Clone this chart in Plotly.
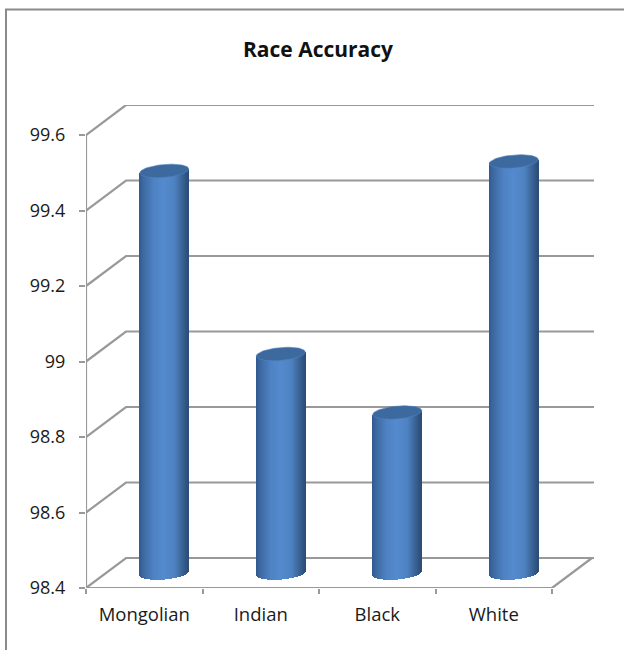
import math
import plotly.graph_objects as go

# data
categories = ["Mongolian", "Indian", "Black", "White"]
values = [99.465, 98.98, 98.825, 99.49]
y_ticks = [98.4, 98.6, 98.8, 99.0, 99.2, 99.4, 99.6]
y_tick_labels = ["98.4", "98.6", "98.8", "99", "99.2", "99.4", "99.6"]
title = "Race Accuracy"

# pixel geometry of the oblique 3D box
W, H = 624, 650
L, R, T, B = 86, 594, 105, 588
PX_PER_CAT = 116.5
PX_PER_UNIT = 377.5
Y0 = y_ticks[0]
dx = 40 / PX_PER_CAT          # wall depth in x units
dy = 30 / PX_PER_UNIT         # wall depth in y units
bar_w = 49 / PX_PER_CAT
x_lo = -0.5
x_hi = x_lo + (R - L) / PX_PER_CAT
y_hi = Y0 + (B - T) / PX_PER_UNIT
GRID = "#999999"
TEXT = "#1a1a1a"
FONT = "Open Sans"

stops = [(0.0, (48, 88, 140)), (0.08, (60, 104, 160)), (0.3, (78, 130, 196)),
         (0.5, (84, 138, 206)), (0.72, (78, 130, 194)), (0.88, (58, 100, 150)),
         (1.0, (44, 76, 118))]


def shade(t):
    for (a, ca), (b, cb) in zip(stops, stops[1:]):
        if t <= b:
            f = (t - a) / (b - a)
            return "rgb(%d,%d,%d)" % tuple(round(p + (q - p) * f) for p, q in zip(ca, cb))
    return "rgb(44,76,118)"


fig = go.Figure()


def line(xs, ys, color=GRID, width=2.2):
    fig.add_trace(go.Scatter(x=xs, y=ys, mode="lines", hoverinfo="skip", showlegend=False,
                             cliponaxis=False, line=dict(color=color, width=width)))


# walls: side-wall diagonal plus back-wall line for every tick
for v in y_ticks:
    line([x_lo, x_lo + dx, x_hi], [v, v + dy, v + dy])
# floor and axes
line([x_lo, x_lo], [Y0, y_ticks[-1]])
line([x_lo, x_lo + 4], [Y0, Y0])
line([x_lo + 4, x_lo + 4 + dx], [Y0, Y0 + dy])

# cylinders (on an overlaid axis pair so that they sit above the wall lines)
N = 49
ry = 6.5 / PX_PER_UNIT
tilt = 2.0 / PX_PER_UNIT
for i in range(N):
    t = (i + 0.5) / N
    u = 2 * t - 1
    off = u * bar_w / 2 + dx / 2
    lower = ry * math.sqrt(max(0, 1 - u * u))
    base = Y0 + dy / 2 - lower + tilt * u
    fig.add_trace(go.Bar(
        x=[k + off for k in range(len(values))],
        y=[v + dy / 2 + tilt * u - base for v in values],
        base=base, width=1.15 / PX_PER_CAT, xaxis="x2", yaxis="y2",
        marker=dict(color=shade(t), line=dict(width=0)),
        hoverinfo="skip", showlegend=False))

# cylinder tops
for k, v in enumerate(values):
    xs, ys = [], []
    for a in range(0, 73):
        th = a / 72 * 2 * math.pi
        u = math.cos(th)
        xs.append(k + dx / 2 + u * bar_w / 2)
        ys.append(v + dy / 2 + tilt * u + ry * math.sin(th))
    fig.add_trace(go.Scatter(x=xs, y=ys, mode="lines", fill="toself", fillcolor="#3d6a9e",
                             xaxis="x2", yaxis="y2",
                             line=dict(color="#5083bd", width=0.6),
                             hoverinfo="skip", showlegend=False))

fig.update_layout(
    width=W, height=H, autosize=False,
    margin=dict(l=L, r=W - R, t=T, b=H - B, pad=0),
    paper_bgcolor="white", plot_bgcolor="white",
    barmode="overlay", bargap=0,
    font=dict(family=FONT, size=18, color=TEXT),
    title=dict(text="<b>%s</b>" % title, x=318 / W, xanchor="center",
               y=1 - 50 / H, yanchor="middle",
               font=dict(family=FONT, size=21, color="#111111")),
    showlegend=False,
    xaxis=dict(range=[x_lo, x_hi], tickmode="array", tickvals=list(range(len(categories))),
               ticktext=categories, ticks="", showgrid=False, zeroline=False, showline=False,
               ticklabelstandoff=13,
               tickfont=dict(family=FONT, size=18.5, color=TEXT),
               minor=dict(tickmode="array", tickvals=[x_lo + j for j in range(len(categories) + 1)],
                          ticks="outside", ticklen=5, tickwidth=2, tickcolor=GRID, showgrid=False)),
    yaxis=dict(range=[Y0, y_hi], tickmode="array", tickvals=y_ticks, ticktext=y_tick_labels,
               ticks="outside", ticklen=6, tickwidth=2, tickcolor=GRID, showgrid=False,
               zeroline=False, showline=False, ticklabelstandoff=10,
               tickfont=dict(family=FONT, size=18, color=TEXT)),
    xaxis2=dict(range=[x_lo, x_hi], overlaying="x", visible=False),
    yaxis2=dict(range=[Y0, y_hi], overlaying="y", visible=False),
    shapes=[dict(type="path", xref="paper", yref="paper",
                 path="M %f %f L %f %f L %f %f" % (
                     (6 - L) / (R - L), (B - 655) / (B - T),
                     (6 - L) / (R - L), (B - 9.5) / (B - T),
                     (630 - L) / (R - L), (B - 9.5) / (B - T)),
                 line=dict(color="#8a8a8a", width=2), layer="below")],
)

fig.write_html("out.html", post_script="document.body.style.margin='0';",
               config=dict(displayModeBar=False))
